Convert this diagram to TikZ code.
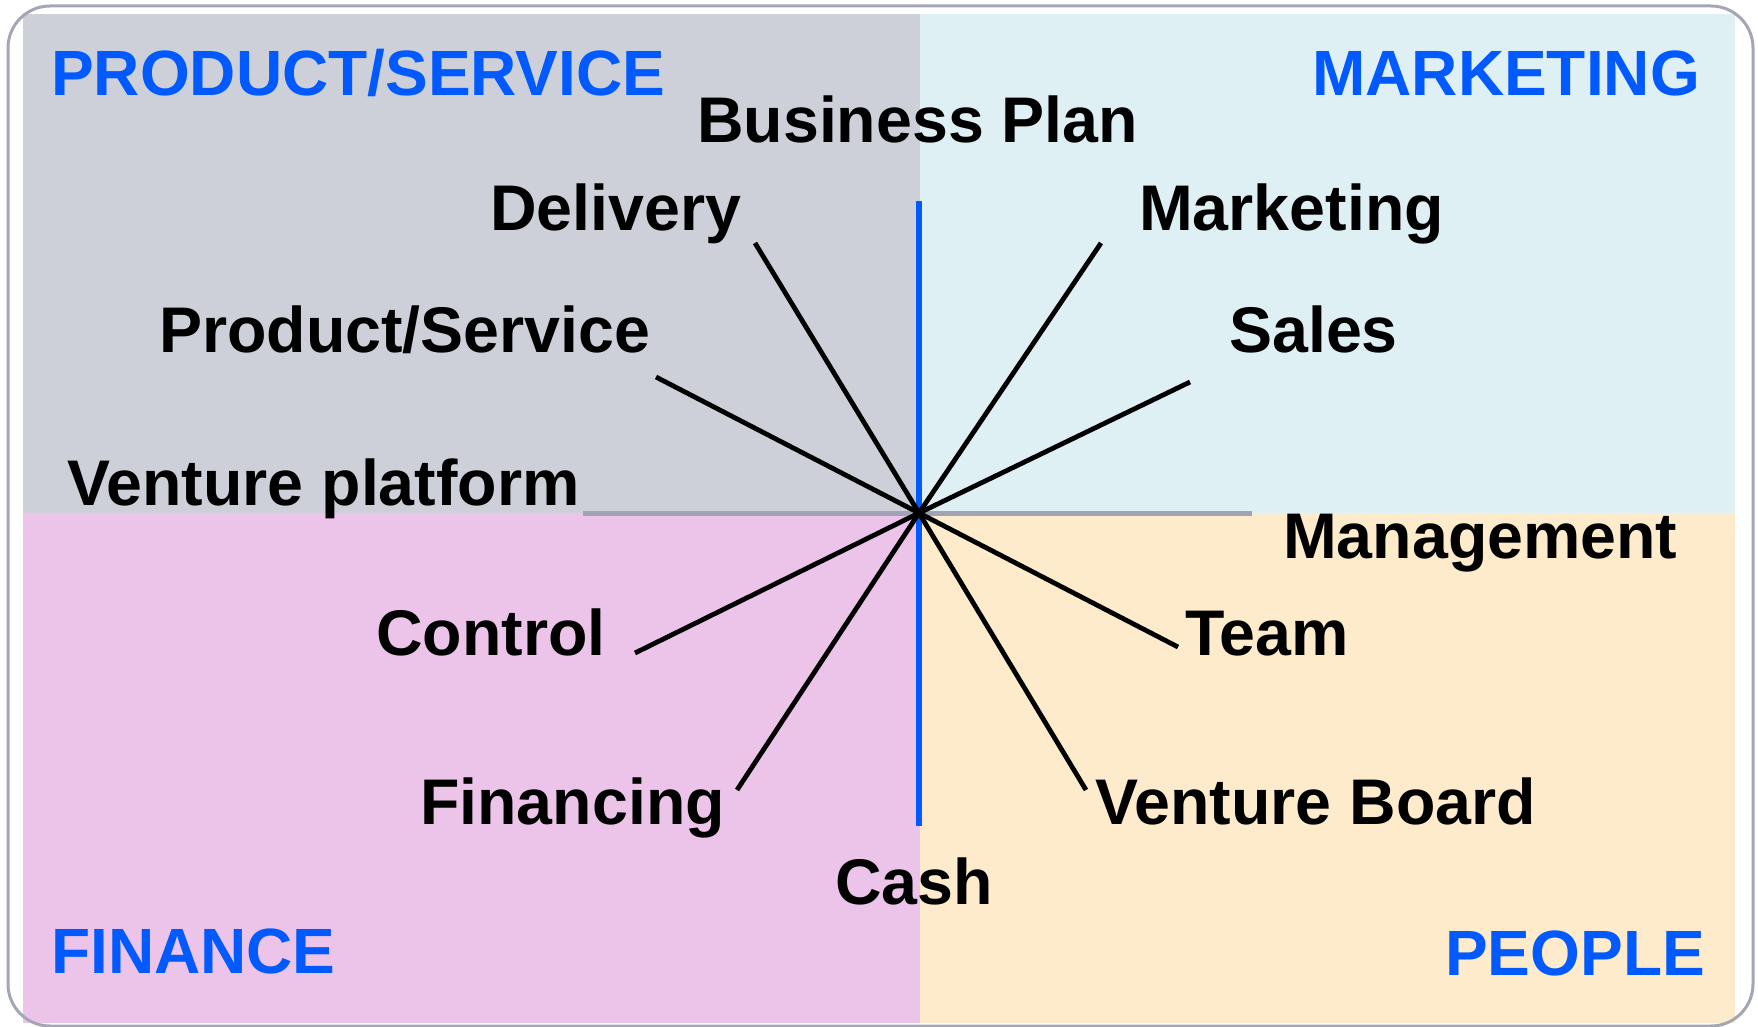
\documentclass[tikz,border=0pt]{standalone}
\usepackage{fontspec}
\setmainfont{Liberation Sans}
\definecolor{qtl}{RGB}{205,208,216}
\definecolor{qtr}{RGB}{223,240,245}
\definecolor{qbl}{RGB}{236,196,234}
\definecolor{qbr}{RGB}{254,235,203}
\definecolor{qblue}{RGB}{0,90,255}
\definecolor{bordergray}{RGB}{163,166,181}
\definecolor{axisgray}{RGB}{160,163,180}
\begin{document}
\begin{tikzpicture}[x=1pt,y=-1pt,
  lbl/.style={font=\fontsize{64.5}{70}\selectfont\bfseries, inner sep=0pt, text=black},
  ttl/.style={font=\fontsize{64}{70}\selectfont\bfseries, inner sep=0pt, text=qblue},
  spoke/.style={line width=4.8pt, draw=black},
  frame/.style={line width=3pt, draw=bordergray, rounded corners=42pt}]
\useasboundingbox (0,0) rectangle (1758,1027);
% quadrants
\fill[qtl] (23,14) rectangle (920,513);
\fill[qtr] (920,14) rectangle (1735,513);
\fill[qbl] (23,513) rectangle (920,1023);
\fill[qbr] (920,513) rectangle (1735,1023);
\draw[frame] (8,6) rectangle (1753,1026);
% axes
\coordinate (c) at (919,513);
\coordinate (hl) at (583,513);
\coordinate (hr) at (1252,513);
\coordinate (vt) at (919,201);
\coordinate (vb) at (919,826);
\draw[line width=5pt, axisgray] (hl) -- (hr);
\draw[line width=6pt, qblue] (vt) -- (vb);
% spoke ends
\coordinate (eDel) at (755,243);
\coordinate (ePS) at (656,377);
\coordinate (eMkt) at (1101,243);
\coordinate (eSal) at (1190,382);
\coordinate (eCtl) at (635,653);
\coordinate (eFin) at (737,790);
\coordinate (eTeam) at (1178,647);
\coordinate (eVB) at (1086,790);
\foreach \e in {eDel,ePS,eMkt,eSal,eCtl,eFin,eTeam,eVB}
  \draw[spoke] (c) -- (\e);
% titles
\node[ttl, anchor=base west] (tPS) at (51,96) {PRODUCT/SERVICE};
\node[ttl, anchor=base east] (tMK) at (1700,96) {MARKETING};
\node[ttl, anchor=base west] (tFI) at (51,973) {FINANCE};
\node[ttl, anchor=base east] (tPE) at (1705,975) {PEOPLE};
% labels
\node[lbl, anchor=base west] (lBP) at (697,143) {Business Plan};
\node[lbl, anchor=base west] (lDel) at (490,230) {Delivery};
\node[lbl, anchor=base west] (lMkt) at (1139,230) {Marketing};
\node[lbl, anchor=base west] (lPS) at (159,352) {Product/Service};
\node[lbl, anchor=base west] (lSal) at (1229,352) {Sales};
\node[lbl, anchor=base west] (lVP) at (67,505) {Venture platform};
\node[lbl, anchor=base west] (lMgt) at (1283,558) {Management};
\node[lbl, anchor=base west] (lCtl) at (376,655) {Control};
\node[lbl, anchor=base west] (lTeam) at (1185,655) {Team};
\node[lbl, anchor=base west] (lFin) at (420,824) {Financing};
\node[lbl, anchor=base west] (lVB) at (1095,824) {Venture Board};
\node[lbl, anchor=base west] (lCash) at (835,904) {Cash};
\end{tikzpicture}
\end{document}
